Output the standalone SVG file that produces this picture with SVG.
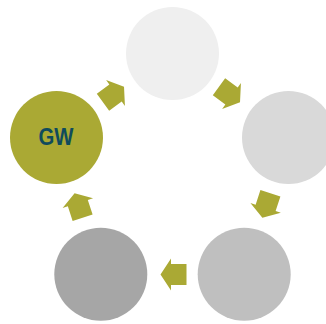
<svg xmlns="http://www.w3.org/2000/svg" width="326" height="324" viewBox="0 0 326 324">
  <defs>
    <style>
      .arrow { fill: #aaa934; }
      .label { font-family: "Liberation Sans", Arial, sans-serif; font-size: 23px; font-weight: bold; fill: #0f4b5c; text-anchor: middle; }
    </style>
    <path id="arr" d="M -13,-10.5 L 2.5,-10.5 L 2.5,-16 L 13,0 L 2.5,16 L 2.5,10.5 L -13,10.5 Z"/>
  </defs>
  <rect width="326" height="324" fill="#ffffff"/>
  <g id="connectors">
    <use href="#arr" class="arrow" transform="translate(229.5,94.5) rotate(36)"/>
    <use href="#arr" class="arrow" transform="translate(266.4,205.5) rotate(108)"/>
    <use href="#arr" class="arrow" transform="translate(173.5,274.5) rotate(180)"/>
    <use href="#arr" class="arrow" transform="translate(78.6,205.5) rotate(252)"/>
    <use href="#arr" class="arrow" transform="translate(113.5,94.5) rotate(-36)"/>
  </g>
  <g id="node-top">
    <circle cx="172.5" cy="53.5" r="46.5" fill="#efefef"/>
  </g>
  <g id="node-right">
    <circle cx="288.5" cy="137.5" r="46.5" fill="#d9d9d9"/>
  </g>
  <g id="node-bottom-right">
    <circle cx="244.2" cy="274.2" r="46.5" fill="#bfbfbf"/>
  </g>
  <g id="node-bottom-left">
    <circle cx="100.8" cy="274.2" r="46.5" fill="#a6a6a6"/>
  </g>
  <g id="node-gw">
    <circle cx="56.5" cy="137.5" r="46.5" fill="#aaa934"/>
    <text class="label" x="56" y="145" textLength="35" lengthAdjust="spacingAndGlyphs">GW</text>
  </g>
</svg>
